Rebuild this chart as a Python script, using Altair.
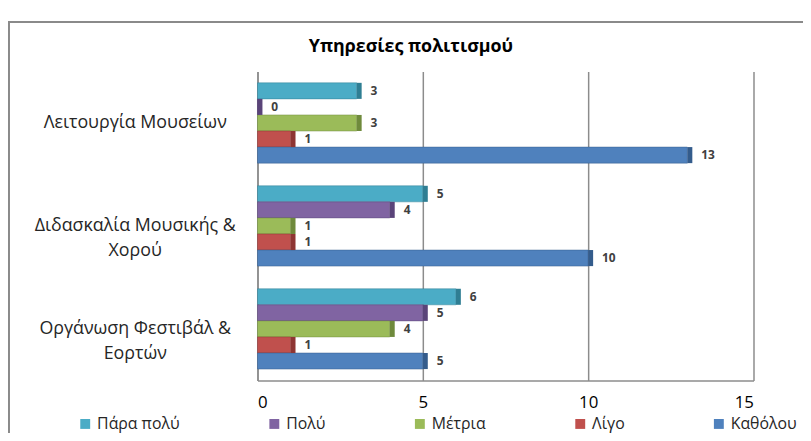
import altair as alt
import pandas as pd

categories = ["Λειτουργία Μουσείων", "Διδασκαλία Μουσικής & Χορού", "Οργάνωση Φεστιβάλ & Εορτών"]
series = ["Πάρα πολύ", "Πολύ", "Μέτρια", "Λίγο", "Καθόλου"]
para_poly = [3, 5, 6]
poly = [0, 4, 5]
metria = [3, 1, 4]
ligo = [1, 1, 1]
katholou = [13, 10, 5]
colors = ["#4BACC6", "#8064A2", "#9BBB59", "#C0504D", "#4F81BD"]
dark_colors = ["#2F7E93", "#5A4479", "#6F8A3C", "#8E3533", "#345C8C"]
x_ticks = [0, 5, 10, 15]
title_text = "Υπηρεσίες πολιτισμού"

vals = [para_poly, poly, metria, ligo, katholou]
rows = []
for s, v in zip(series, vals):
    for c, x in zip(categories, v):
        rows.append({"cat": c, "series": s, "value": x})
df = pd.DataFrame(rows)

FONT = "Open Sans"
W, H = 501, 312

y_enc = alt.Y("cat:N", sort=categories, title=None,
              scale=alt.Scale(paddingInner=0.22, paddingOuter=0.11),
              axis=alt.Axis(labelAlign="center", labelPadding=124, labelFontSize=18,
                            labelColor="#262626", labelFont=FONT, ticks=False, labelLimit=400,
                            domainColor="#8c8c8c", domainWidth=1.5, labelLineHeight=25,
                            labelExpr="indexof(datum.label,'&')>0 ? [slice(datum.label,0,indexof(datum.label,'&')+1), slice(datum.label,indexof(datum.label,'&')+2)] : datum.label"))
yoff = alt.YOffset("series:N", sort=series)

base = alt.Chart(df)

bars = base.mark_bar(strokeWidth=0.8, strokeOpacity=0.6).encode(
    x=alt.X("value:Q", scale=alt.Scale(domain=[0, 15], nice=False), title=None,
            axis=alt.Axis(values=x_ticks, grid=True, gridColor="#8c8c8c", gridWidth=1.5,
                          ticks=False, domainColor="#8c8c8c", domainWidth=1.5,
                          labelFontSize=17, labelColor="#000000", labelFont=FONT,
                          labelPadding=14)),
    y=y_enc,
    yOffset=yoff,
    color=alt.Color("series:N", sort=series,
                    scale=alt.Scale(domain=series, range=colors),
                    legend=alt.Legend(title=None, orient="none", direction="horizontal",
                                      legendX=-182, legendY=348, symbolType="square",
                                      symbolSize=100, symbolStrokeWidth=0,
                                      labelFontSize=16, labelColor="#262626", labelFont=FONT,
                                      columnPadding=87, labelOffset=4)),
    stroke=alt.Stroke("series:N", sort=series,
                      scale=alt.Scale(domain=series, range=dark_colors), legend=None),
)

caps = base.transform_calculate(vend="datum.value + 0.15").mark_bar().encode(
    x="value:Q", x2="vend:Q", y=y_enc, yOffset=yoff,
    color=alt.Color("series:N", sort=series,
                    scale=alt.Scale(domain=series, range=dark_colors), legend=None),
)

labels = base.transform_calculate(vend="datum.value + 0.15").mark_text(
    align="left", baseline="middle", dx=9, fontSize=12, fontWeight="bold",
    color="#404040", font=FONT
).encode(x="vend:Q", y=y_enc, yOffset=yoff, text="value:Q")

frame = alt.Chart(pd.DataFrame({"k": [0]})).mark_rect(
    fill="transparent", stroke="#8a8a8a", strokeWidth=2
).encode(x=alt.value(-251), x2=alt.value(W + 80), y=alt.value(-50), y2=alt.value(H + 80))

title = alt.Chart(pd.DataFrame({"t": [title_text]})).mark_text(
    fontSize=18, fontWeight="bold", font=FONT, color="#000000",
    align="center", baseline="middle"
).encode(text="t:N", x=alt.value(155), y=alt.value(-25))

chart = alt.layer(frame, bars, caps, labels, title).resolve_scale(color="independent").properties(
    width=W, height=H,
    autosize=alt.AutoSizeParams(type="none"),
    padding={"left": 252, "top": 62, "right": 50, "bottom": 51},
).configure_view(strokeWidth=0)

chart.save("out.html", embed_options={"renderer": "svg", "actions": False})
